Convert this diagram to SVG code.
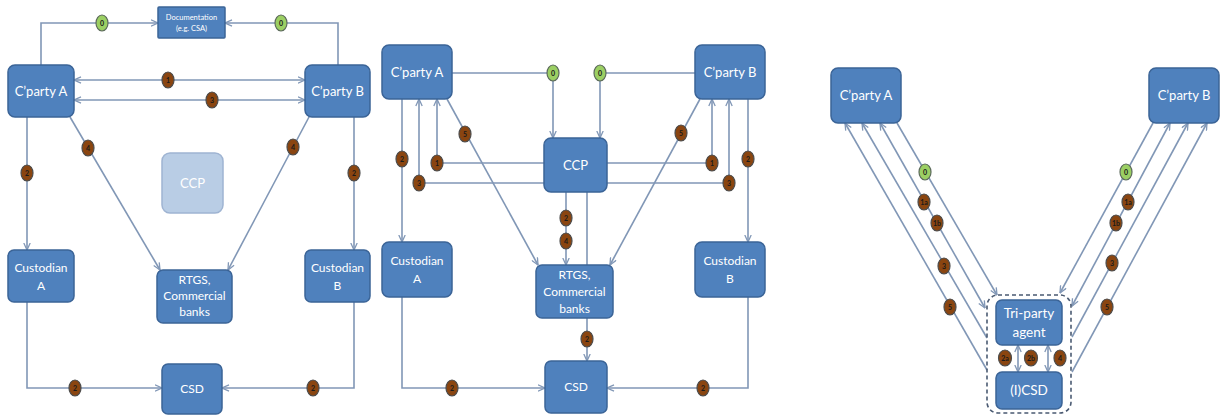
<svg xmlns="http://www.w3.org/2000/svg" width="1220" height="416" viewBox="0 0 1220 416">
<style>
.box{fill:#4f81bd;stroke:#3b6497;stroke-width:1.5}
.ccpl{fill:#b9cde5;stroke:#9fb4d2;stroke-width:1.5}
.t{font-family:Lato,"Open Sans",sans-serif;fill:#fff;text-anchor:middle}
.c{fill:none;stroke:#8197b6;stroke-width:1.6}
.ae{marker-end:url(#ah)}
.as{marker-start:url(#ah)}
.b{fill:#8a4510;stroke:#4d4d4d;stroke-width:1.2}
.g{fill:#9bcf63;stroke:#5d6b5d;stroke-width:1.2}
.bt{font-family:Lato,"Liberation Sans",sans-serif;font-size:7px;font-weight:bold;fill:#1a1a1a;text-anchor:middle}
.dash{fill:none;stroke:#4a5a72;stroke-width:1.6;stroke-dasharray:4 3}
</style>
<defs>
<marker id="ah" viewBox="0 0 8 8" refX="7.5" refY="4" markerWidth="8" markerHeight="8" markerUnits="userSpaceOnUse" orient="auto-start-reverse">
<path d="M0.5,0.8 L7.5,4 L0.5,7.2" fill="none" stroke="#8197b6" stroke-width="1.3"/>
</marker>
</defs>

<g id="connectors">
<!-- left panel -->
<path class="c ae" d="M41,65 V23 H158"/>
<path class="c ae" d="M338,65 V23 H225"/>
<line class="c ae as" x1="74" y1="80" x2="305" y2="80"/>
<line class="c ae as" x1="74" y1="100" x2="305" y2="100"/>
<line class="c ae" x1="27" y1="117" x2="27" y2="250"/>
<line class="c ae" x1="354" y1="117" x2="354" y2="250"/>
<line class="c ae" x1="70" y1="117" x2="160" y2="270"/>
<line class="c ae" x1="309" y1="117" x2="228" y2="270"/>
<path class="c ae" d="M27,302 V388 H162"/>
<path class="c ae" d="M354,302 V388 H222"/>
<!-- middle panel -->
<path class="c ae" d="M452,73 H553 V138"/>
<path class="c ae" d="M695,73 H600 V138"/>
<line class="c ae" x1="402" y1="99" x2="402" y2="242"/>
<path class="c ae" d="M544,183 H419 V99"/>
<path class="c ae" d="M544,163 H437 V99"/>
<line class="c ae" x1="447" y1="99" x2="538" y2="265"/>
<path class="c ae" d="M607,163 H712 V99"/>
<path class="c ae" d="M607,183 H729 V99"/>
<line class="c ae" x1="748" y1="99" x2="748" y2="242"/>
<line class="c ae" x1="700" y1="99" x2="610" y2="265"/>
<line class="c ae" x1="566" y1="192" x2="566" y2="265"/>
<line class="c" x1="587" y1="192" x2="587" y2="265"/>
<line class="c ae" x1="587" y1="318" x2="587" y2="361"/>
<path class="c ae" d="M402,297 V388 H545"/>
<path class="c ae" d="M748,297 V388 H607"/>
<!-- right panel -->
<line class="c as" x1="845" y1="123" x2="987" y2="370"/>
<line class="c as" x1="862" y1="123" x2="987" y2="338"/>
<line class="c as ae" x1="880" y1="123" x2="985" y2="308"/>
<line class="c ae" x1="897" y1="123" x2="997" y2="295"/>
<line class="c ae" x1="1153" y1="123" x2="1060" y2="293"/>
<line class="c as ae" x1="1170" y1="123" x2="1072" y2="306"/>
<line class="c as" x1="1188" y1="123" x2="1072" y2="337"/>
<line class="c as" x1="1207" y1="123" x2="1072" y2="372"/>
<line class="c as ae" x1="1018" y1="345" x2="1018" y2="372"/>
<line class="c as ae" x1="1048" y1="345" x2="1048" y2="372"/>
</g>

<g id="badges">
<ellipse class="g" cx="102" cy="23" rx="6" ry="8"/><text class="bt" x="102" y="25.5">0</text>
<ellipse class="g" cx="281" cy="23" rx="6" ry="8"/><text class="bt" x="281" y="25.5">0</text>
<ellipse class="b" cx="168" cy="80" rx="6" ry="8"/><text class="bt" x="168" y="82.5">1</text>
<ellipse class="b" cx="212" cy="100" rx="6" ry="8"/><text class="bt" x="212" y="102.5">3</text>
<ellipse class="b" cx="27" cy="173" rx="6" ry="8"/><text class="bt" x="27" y="175.5">2</text>
<ellipse class="b" cx="354" cy="173" rx="6" ry="8"/><text class="bt" x="354" y="175.5">2</text>
<ellipse class="b" cx="88" cy="148" rx="6" ry="8"/><text class="bt" x="88" y="150.5">4</text>
<ellipse class="b" cx="293" cy="147" rx="6" ry="8"/><text class="bt" x="293" y="149.5">4</text>
<ellipse class="b" cx="75" cy="388" rx="6" ry="8"/><text class="bt" x="75" y="390.5">2</text>
<ellipse class="b" cx="313" cy="388" rx="6" ry="8"/><text class="bt" x="313" y="390.5">2</text>

<ellipse class="g" cx="553" cy="73" rx="6" ry="8"/><text class="bt" x="553" y="75.5">0</text>
<ellipse class="g" cx="600" cy="73" rx="6" ry="8"/><text class="bt" x="600" y="75.5">0</text>
<ellipse class="b" cx="402" cy="159" rx="6" ry="8"/><text class="bt" x="402" y="161.5">2</text>
<ellipse class="b" cx="419" cy="183" rx="6" ry="8"/><text class="bt" x="419" y="185.5">3</text>
<ellipse class="b" cx="437" cy="163" rx="6" ry="8"/><text class="bt" x="437" y="165.5">1</text>
<ellipse class="b" cx="465" cy="134" rx="6" ry="8"/><text class="bt" x="465" y="136.5">5</text>
<ellipse class="b" cx="712" cy="163" rx="6" ry="8"/><text class="bt" x="712" y="165.5">1</text>
<ellipse class="b" cx="729" cy="183" rx="6" ry="8"/><text class="bt" x="729" y="185.5">3</text>
<ellipse class="b" cx="748" cy="159" rx="6" ry="8"/><text class="bt" x="748" y="161.5">2</text>
<ellipse class="b" cx="681" cy="133" rx="6" ry="8"/><text class="bt" x="681" y="135.5">5</text>
<ellipse class="b" cx="566" cy="218" rx="6" ry="8"/><text class="bt" x="566" y="220.5">2</text>
<ellipse class="b" cx="566" cy="241" rx="6" ry="8"/><text class="bt" x="566" y="243.5">4</text>
<ellipse class="b" cx="587" cy="339" rx="6" ry="8"/><text class="bt" x="587" y="341.5">2</text>
<ellipse class="b" cx="452" cy="388" rx="6" ry="8"/><text class="bt" x="452" y="390.5">2</text>
<ellipse class="b" cx="703" cy="388" rx="6" ry="8"/><text class="bt" x="703" y="390.5">2</text>

<ellipse class="g" cx="925" cy="172" rx="6" ry="8"/><text class="bt" x="925" y="174.5">0</text>
<ellipse class="b" cx="924" cy="202" rx="6" ry="8"/><text class="bt" x="924" y="204.5">1a</text>
<ellipse class="b" cx="937" cy="223" rx="6" ry="8"/><text class="bt" x="937" y="225.5">1b</text>
<ellipse class="b" cx="944" cy="266" rx="6" ry="8"/><text class="bt" x="944" y="268.5">3</text>
<ellipse class="b" cx="950" cy="307" rx="6" ry="8"/><text class="bt" x="950" y="309.5">5</text>
<ellipse class="g" cx="1126" cy="172" rx="6" ry="8"/><text class="bt" x="1126" y="174.5">0</text>
<ellipse class="b" cx="1128" cy="202" rx="6" ry="8"/><text class="bt" x="1128" y="204.5">1a</text>
<ellipse class="b" cx="1116" cy="223" rx="6" ry="8"/><text class="bt" x="1116" y="225.5">1b</text>
<ellipse class="b" cx="1112" cy="263" rx="6" ry="8"/><text class="bt" x="1112" y="265.5">3</text>
<ellipse class="b" cx="1107" cy="307" rx="6" ry="8"/><text class="bt" x="1107" y="309.5">5</text>
<ellipse class="b" cx="1005" cy="358" rx="6.5" ry="8"/><text class="bt" x="1005" y="360.5">2a</text>
<ellipse class="b" cx="1031" cy="358" rx="6.5" ry="8"/><text class="bt" x="1031" y="360.5">2b</text>
<ellipse class="b" cx="1060" cy="358" rx="6" ry="8"/><text class="bt" x="1060" y="360.5">4</text>
</g>

<!-- left panel nodes -->
<g id="doc"><rect class="box" x="158" y="7" width="67" height="31" rx="1"/><text class="t" font-size="7.5" x="191.5" y="20">Documentation</text><text class="t" font-size="7.5" x="191.5" y="31">(e.g. CSA)</text></g>
<g id="cpA1"><rect class="box" x="8" y="65" width="66" height="52" rx="7"/><text class="t" font-size="13" x="41" y="96">C’party A</text></g>
<g id="cpB1"><rect class="box" x="305" y="65" width="65" height="52" rx="7"/><text class="t" font-size="13" x="337.5" y="96">C’party B</text></g>
<g id="ccp1"><rect class="ccpl" x="162" y="153" width="61" height="60" rx="8"/><text class="t" font-size="13" x="192.5" y="188">CCP</text></g>
<g id="custA1"><rect class="box" x="8" y="250" width="66" height="52" rx="6"/><text class="t" font-size="12" x="41" y="272">Custodian</text><text class="t" font-size="12" x="41" y="290">A</text></g>
<g id="custB1"><rect class="box" x="305" y="250" width="65" height="52" rx="6"/><text class="t" font-size="12" x="337.5" y="272">Custodian</text><text class="t" font-size="12" x="337.5" y="290">B</text></g>
<g id="rtgs1"><rect class="box" x="157" y="270" width="75" height="53" rx="6"/><text class="t" font-size="12" x="194.5" y="284">RTGS,</text><text class="t" font-size="12" x="194.5" y="300">Commercial</text><text class="t" font-size="12" x="194.5" y="316">banks</text></g>
<g id="csd1"><rect class="box" x="162" y="364" width="60" height="50" rx="6"/><text class="t" font-size="12" x="192" y="393">CSD</text></g>

<!-- middle panel nodes -->
<g id="cpA2"><rect class="box" x="382" y="45" width="70" height="54" rx="7"/><text class="t" font-size="13" x="417" y="77">C’party A</text></g>
<g id="cpB2"><rect class="box" x="695" y="45" width="70" height="54" rx="7"/><text class="t" font-size="13" x="730" y="77">C’party B</text></g>
<g id="ccp2"><rect class="box" x="544" y="138" width="63" height="54" rx="7"/><text class="t" font-size="13" x="575.5" y="170">CCP</text></g>
<g id="custA2"><rect class="box" x="382" y="242" width="70" height="55" rx="7"/><text class="t" font-size="12" x="417" y="265">Custodian</text><text class="t" font-size="12" x="417" y="283">A</text></g>
<g id="custB2"><rect class="box" x="695" y="242" width="70" height="55" rx="7"/><text class="t" font-size="12" x="730" y="265">Custodian</text><text class="t" font-size="12" x="730" y="283">B</text></g>
<g id="rtgs2"><rect class="box" x="536" y="265" width="77" height="53" rx="6"/><text class="t" font-size="12" x="574.5" y="279">RTGS,</text><text class="t" font-size="12" x="574.5" y="296">Commercial</text><text class="t" font-size="12" x="574.5" y="313">banks</text></g>
<g id="csd2"><rect class="box" x="545" y="361" width="62" height="52" rx="6"/><text class="t" font-size="12" x="576" y="391">CSD</text></g>

<!-- right panel nodes -->
<g id="cpA3"><rect class="box" x="831" y="68" width="70" height="55" rx="7"/><text class="t" font-size="13" x="866" y="100">C’party A</text></g>
<g id="cpB3"><rect class="box" x="1149" y="68" width="70" height="55" rx="7"/><text class="t" font-size="13" x="1184" y="100">C’party B</text></g>
<g id="container"><rect class="dash" x="987" y="295" width="84" height="118" rx="11"/></g>
<g id="tri"><rect class="box" x="996" y="300" width="66" height="45" rx="6"/><text class="t" font-size="13.5" x="1029" y="318">Tri-party</text><text class="t" font-size="13.5" x="1029" y="337">agent</text></g>
<g id="icsd"><rect class="box" x="996" y="372" width="66" height="37" rx="6"/><text class="t" font-size="13.5" x="1029" y="395">(I)CSD</text></g>
</svg>
